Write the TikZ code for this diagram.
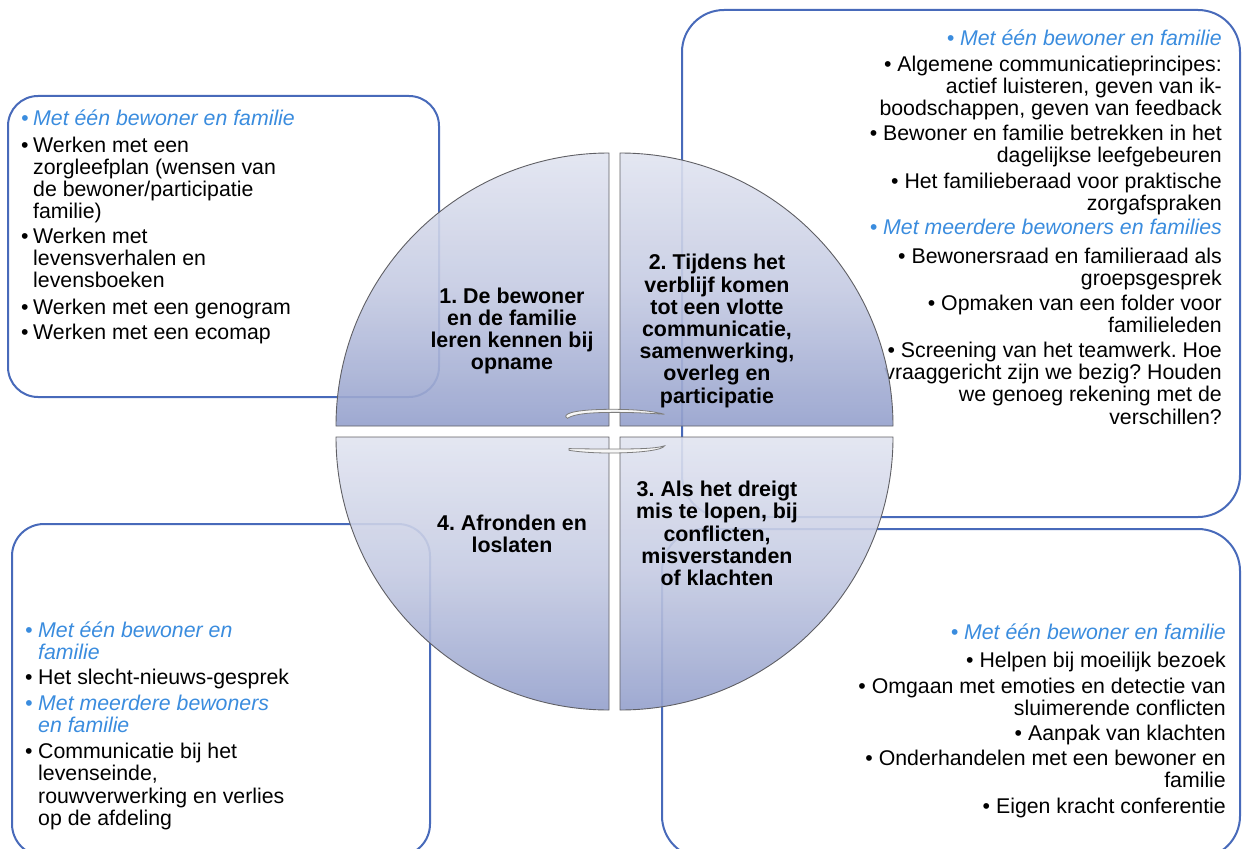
\documentclass[tikz,border=0pt]{standalone}
\usepackage{fontspec}
\setmainfont{Liberation Sans}
\frenchspacing
\definecolor{frameblue}{RGB}{72,106,186}
\definecolor{itemblue}{RGB}{58,140,222}
\definecolor{qtop}{RGB}{225,228,240}
\definecolor{qmid}{RGB}{196,202,226}
\definecolor{qbot}{RGB}{148,160,204}
\definecolor{qedge}{RGB}{95,95,100}
\definecolor{swedge}{RGB}{125,125,125}
\begin{document}
\begin{tikzpicture}[x=1pt,y=-1pt,
  frame/.style={draw=frameblue, line width=2pt},
  quad/.style={draw=qedge, line width=0.9pt, top color=qtop, bottom color=qbot, middle color=qmid, fill opacity=0.9},
  qlabel/.style={font=\bfseries\fontsize{21.4}{22.2}\selectfont, align=center, inner sep=0pt, text=black},
  body/.style={font=\fontsize{21.3}{22}\selectfont, inner sep=0pt, text=black},
  rline/.style={body, anchor=base east},
  lline/.style={body, anchor=base west},
  hilite/.style={text=itemblue, font=\fontsize{21.3}{22}\selectfont\itshape},
  swoosh/.style={draw=swedge, line width=0.8pt, fill=gray!6}
]
\useasboundingbox (0,0) rectangle (1246,848);
\begin{scope}
\clip (0,0) rectangle (1246,848);

% ---- rounded frames ----
\draw[frame, rounded corners=30pt] (8,96) rectangle (439,397);
\draw[frame, rounded corners=42pt] (682,10) rectangle (1240,517);
\draw[frame, rounded corners=42pt] (662,529) rectangle (1240,858);
\draw[frame, rounded corners=32pt] (12,524) rectangle (430,856);

% ---- top left frame ----
\newcommand{\bul}{\llap{•\hspace{4.5pt}}}
\newcommand{\bulw}{\llap{•\hspace{5.5pt}}}
\node[lline, hilite] (tl1) at (33,125.5) {\bul Met één bewoner en familie};
\node[lline] (tl2) at (33,152.5) {\bul Werken met een};
\node[lline] (tl3) at (33,174) {zorgleefplan (wensen van};
\node[lline] (tl4) at (33,196.5) {de bewoner/participatie};
\node[lline] (tl5) at (33,218.5) {familie)};
\node[lline] (tl6) at (33,243.5) {\bul Werken met};
\node[lline] (tl7) at (33,265.5) {levensverhalen en};
\node[lline] (tl8) at (33,287.5) {levensboeken};
\node[lline] (tl9) at (33,314.5) {\bul Werken met een genogram};
\node[lline] (tl10) at (33,339) {\bul Werken met een ecomap};

% ---- top right frame ----
\node[rline, hilite] (tr1) at (1222,46) {• Met één bewoner en familie};
\node[rline] (tr2) at (1222,72) {• Algemene communicatieprincipes:};
\node[rline] (tr3) at (1222,94) {actief luisteren, geven van ik-};
\node[rline] (tr4) at (1222,116) {boodschappen, geven van feedback};
\node[rline] (tr5) at (1222,140) {• Bewoner en familie betrekken in het};
\node[rline] (tr6) at (1222,162) {dagelijkse leefgebeuren};
\node[rline] (tr7) at (1222,188) {• Het familieberaad voor praktische};
\node[rline] (tr8) at (1222,210) {zorgafspraken};
\node[rline, hilite] (tr9) at (1222,234) {• Met meerdere bewoners en families};
\node[rline] (tr10) at (1222,263) {• Bewonersraad en familieraad als};
\node[rline] (tr11) at (1222,285) {groepsgesprek};
\node[rline] (tr12) at (1222,310) {• Opmaken van een folder voor};
\node[rline] (tr13) at (1222,332) {familieleden};
\node[rline] (tr14) at (1222,357) {• Screening van het teamwerk. Hoe};
\node[rline] (tr15) at (1222,379) {vraaggericht zijn we bezig? Houden};
\node[rline] (tr16) at (1222,401) {we genoeg rekening met de};
\node[rline] (tr17) at (1222,424) {verschillen?};

% ---- bottom right frame ----
\node[rline, hilite] (br1) at (1226,639) {• Met één bewoner en familie};
\node[rline] (br2) at (1226,667) {• Helpen bij moeilijk bezoek};
\node[rline] (br3) at (1226,693) {• Omgaan met emoties en detectie van};
\node[rline] (br4) at (1226,715) {sluimerende conflicten};
\node[rline] (br5) at (1226,740) {• Aanpak van klachten};
\node[rline] (br6) at (1226,765) {• Onderhandelen met een bewoner en};
\node[rline] (br7) at (1226,787) {familie};
\node[rline] (br8) at (1226,813) {• Eigen kracht conferentie};

% ---- bottom left frame ----
\node[lline, hilite] (bl1) at (38,637) {\bulw Met één bewoner en};
\node[lline, hilite] (bl2) at (38,659.5) {familie};
\node[lline] (bl3) at (38,684.5) {\bulw Het slecht-nieuws-gesprek};
\node[lline, hilite] (bl4) at (38,710.5) {\bulw Met meerdere bewoners};
\node[lline, hilite] (bl5) at (38,732.5) {en familie};
\node[lline] (bl6) at (38,758.5) {\bulw Communicatie bij het};
\node[lline] (bl7) at (38,780.5) {levenseinde,};
\node[lline] (bl8) at (38,803) {rouwverwerking en verlies};
\node[lline] (bl9) at (38,825) {op de afdeling};

% ---- four quarter discs ----
\path[quad] (609,426) -- (336,426) arc[start angle=180, end angle=90, radius=273pt] -- cycle;
\path[quad] (620,426) -- (620,153) arc[start angle=90, end angle=0, radius=273pt] -- cycle;
\path[quad] (620,437) -- (893,437) arc[start angle=0, end angle=-90, radius=273pt] -- cycle;
\path[quad] (609,437) -- (609,710) arc[start angle=270, end angle=180, radius=273pt] -- cycle;

\node[qlabel] (q1) at (512,331) {1. De bewoner\\en de familie\\leren kennen bij\\opname};
\node[qlabel] (q2) at (717,331) {2. Tijdens het\\verblijf komen\\tot een vlotte\\communicatie,\\samenwerking,\\overleg en\\participatie};
\node[qlabel] (q3) at (717,533.5) {3. Als het dreigt\\mis te lopen, bij\\conflicten,\\misverstanden\\of klachten};
\node[qlabel] (q4) at (512,534) {4. Afronden en\\loslaten};

% ---- curved arrows in the middle ----
\draw[swoosh] (565.7,416.7) .. controls (565,412.5) and (580,409.5) .. (610,409.3)
  .. controls (635,409.2) and (652,411) .. (664.5,414.3)
  .. controls (650,413.2) and (632,412.2) .. (610,412.4)
  .. controls (588,412.6) and (574,414) .. (567.5,418.3)
  .. controls (566.5,418.2) and (566,417.6) .. (565.7,416.7) -- cycle;
\draw[swoosh] (569,448.6) .. controls (585,448.9) and (598,449) .. (610,449)
  .. controls (632,449) and (655,449) .. (664.5,445.8)
  .. controls (663,450) and (640,453) .. (610,453)
  .. controls (590,453) and (576,451.5) .. (569,450.3) -- cycle;
\end{scope}
\end{tikzpicture}
\end{document}
